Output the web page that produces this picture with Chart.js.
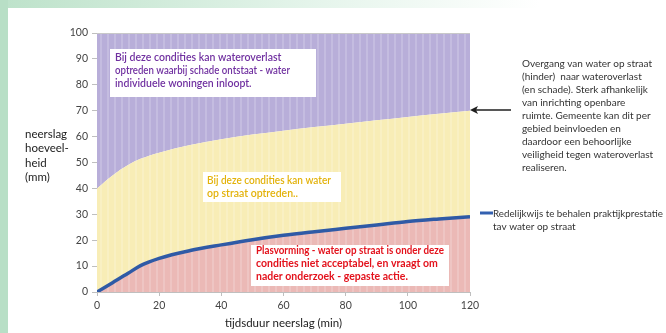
<!DOCTYPE html>
<html>
<head>
<meta charset="utf-8">
<script src="https://cdn.jsdelivr.net/npm/chart.js@4.4.1/dist/chart.umd.min.js"></script>
<style>
  html, body { margin: 0; padding: 0; background: #fff; }
  canvas { display: block; }
</style>
</head>
<body>
<canvas id="myChart" width="666" height="333"></canvas>
<script>
// tijdsduur (min) en neerslag (mm)
const minuten = [0, 5, 10, 14, 20, 30, 40, 50, 60, 70, 80, 90, 100, 110, 120];
const praktijkprestatie = [0, 3.6, 7.2, 10.2, 13, 16, 18.2, 20.2, 21.9, 23.3, 24.6, 25.9, 27.2, 28.2, 29.1];
const grensOverlast = [40, 45, 49, 51.4, 53.8, 56.8, 59, 60.8, 62.3, 63.7, 65, 66.3, 67.6, 68.8, 70];
const bovengrens = [100, 100, 100, 100, 100, 100, 100, 100, 100, 100, 100, 100, 100, 100, 100];

const yTitel = ['neerslag', 'hoeveel-', 'heid', '(mm)'];
const xTitel = 'tijdsduur neerslag (min)';
const tekstPaars = ['Bij deze condities kan wateroverlast', 'optreden waarbij schade ontstaat - water', 'individuele woningen inloopt.'];
const tekstGeel = ['Bij deze condities kan water', 'op straat optreden..'];
const tekstRood = ['Plasvorming - water op straat is onder deze', 'condities niet acceptabel, en vraagt om', 'nader onderzoek - gepaste actie.'];
const tekstRechts = ['Overgang van water op straat', '(hinder)  naar wateroverlast', '(en schade). Sterk afhankelijk', 'van inrichting openbare', 'ruimte. Gemeente kan dit per', 'gebied beinvloeden en', 'daardoor een behoorlijke', 'veiligheid tegen wateroverlast', 'realiseren.'];
const tekstLegenda = ['Redelijkwijs te behalen praktijkprestatie', 'tav water op straat'];

const FONT = 'Lato, "Open Sans", sans-serif';

function lines(ctx, arr, x, y, lh, maxW) {
  arr.forEach((t, i) => ctx.fillText(t, x, y + i * lh, maxW));
}

function box(ctx, x, y, w, h) {
  ctx.fillStyle = '#ffffff';
  ctx.fillRect(x, y, w, h);
}

const decor = {
  id: 'decor',
  beforeDraw(chart) {
    const ctx = chart.ctx;
    ctx.save();
    ctx.fillStyle = '#ffffff';
    ctx.fillRect(0, 0, chart.width, chart.height);
    // groene rand van de dia
    const g = ctx.createLinearGradient(0, 0, 540, 0);
    g.addColorStop(0, '#bde2ca');
    g.addColorStop(0.6, '#e6f5ec');
    g.addColorStop(1, '#ffffff');
    ctx.fillStyle = g;
    ctx.fillRect(0, 0, chart.width, 8);
    ctx.fillStyle = '#b8dfc6';
    ctx.fillRect(0, 0, 8, chart.height);
    ctx.restore();
  },
  beforeDatasetsDraw(chart) {
    // lichte verticale strepen in de vlakken
    const ctx = chart.ctx, a = chart.chartArea;
    ctx.save();
    ctx.fillStyle = 'rgba(255,255,255,0.18)';
    for (let x = a.left + 3; x < a.right; x += 7) ctx.fillRect(x, a.top, 2, a.bottom - a.top);
    ctx.restore();
  },
  afterDatasetsDraw(chart) {
    const ctx = chart.ctx;
    ctx.save();
    ctx.textBaseline = 'middle';
    ctx.textAlign = 'left';

    box(ctx, 110, 49, 206, 48);
    ctx.fillStyle = '#7030a0';
    ctx.font = '600 10.5px ' + FONT;
    lines(ctx, tekstPaars, 115, 58, 13, 175);

    box(ctx, 203, 172, 138, 30);
    ctx.fillStyle = '#e3b20a';
    lines(ctx, tekstGeel, 207, 181, 13, 124);

    box(ctx, 251, 245, 198, 41);
    ctx.fillStyle = '#e3121c';
    ctx.font = 'bold 10.5px ' + FONT;
    lines(ctx, tekstRood, 256, 251, 12.7, 188);

    // rechter toelichting
    ctx.fillStyle = '#333333';
    ctx.font = '10px ' + FONT;
    lines(ctx, tekstRechts, 522, 64, 13, 134);
    lines(ctx, tekstLegenda, 493, 214, 13, 170);

    // pijl naar de grenslijn
    ctx.strokeStyle = '#1f1f1f';
    ctx.lineWidth = 1.5;
    ctx.beginPath();
    ctx.moveTo(511, 110);
    ctx.lineTo(473, 110);
    ctx.stroke();
    ctx.fillStyle = '#1f1f1f';
    ctx.beginPath();
    ctx.moveTo(470, 110);
    ctx.lineTo(478, 106);
    ctx.lineTo(476, 110);
    ctx.lineTo(478, 114);
    ctx.closePath();
    ctx.fill();

    // legenda lijntje
    ctx.strokeStyle = '#3360b0';
    ctx.lineWidth = 3;
    ctx.beginPath();
    ctx.moveTo(480, 213);
    ctx.lineTo(493, 213);
    ctx.stroke();

    // y-as titel
    ctx.fillStyle = '#222222';
    ctx.font = '11.5px ' + FONT;
    lines(ctx, yTitel, 25, 134, 14.5, 60);

    // bovenrand plotvlak
    const a = chart.chartArea;
    ctx.strokeStyle = '#c8c8c8';
    ctx.lineWidth = 1;
    ctx.beginPath();
    ctx.moveTo(a.left, a.top + 0.5);
    ctx.lineTo(a.right, a.top + 0.5);
    ctx.stroke();
    ctx.restore();
  }
};

const data = {
  labels: minuten,
  datasets: [
    {
      label: 'praktijkprestatie',
      data: praktijkprestatie,
      borderColor: '#2f5aa6',
      borderWidth: 3.5,
      backgroundColor: '#ebb9b6',
      fill: 'origin',
      pointRadius: 0,
      cubicInterpolationMode: 'monotone'
    },
    {
      label: 'grens wateroverlast',
      data: grensOverlast,
      borderWidth: 0,
      borderColor: 'rgba(0,0,0,0)',
      backgroundColor: '#f8edb6',
      fill: 0,
      pointRadius: 0,
      cubicInterpolationMode: 'monotone'
    },
    {
      label: 'bovengrens',
      data: bovengrens,
      borderWidth: 0,
      borderColor: 'rgba(0,0,0,0)',
      backgroundColor: '#b8aed9',
      fill: 1,
      pointRadius: 0
    }
  ]
};

const config = {
  type: 'line',
  data: data,
  options: {
    responsive: false,
    animation: false,
    layout: { padding: { left: 0, right: 196, top: 33, bottom: 0 } },
    plugins: {
      legend: { display: false },
      tooltip: { enabled: false },
      filler: { drawTime: 'beforeDatasetsDraw' }
    },
    scales: {
      x: {
        type: 'linear',
        min: 0,
        max: 120,
        afterFit: s => { s.height = 41; },
        ticks: { stepSize: 20, color: '#444', font: { family: FONT, size: 10.5 }, padding: 3, maxRotation: 0 },
        grid: { drawOnChartArea: false, tickLength: 4, color: '#bfbfbf' },
        border: { color: '#bfbfbf' },
        title: { display: true, text: xTitel, color: '#222', font: { family: FONT, size: 11.5 }, padding: { top: 2, bottom: 3 } }
      },
      y: {
        min: 0,
        max: 100,
        afterFit: s => { s.width = 97; },
        ticks: { stepSize: 10, color: '#444', font: { family: FONT, size: 10.5 }, padding: 4 },
        grid: { drawOnChartArea: false, tickLength: 5, color: '#bfbfbf' },
        border: { color: '#bfbfbf' }
      }
    }
  },
  plugins: [decor]
};

const myChart = new Chart(document.getElementById('myChart'), config);
</script>
</body>
</html>
